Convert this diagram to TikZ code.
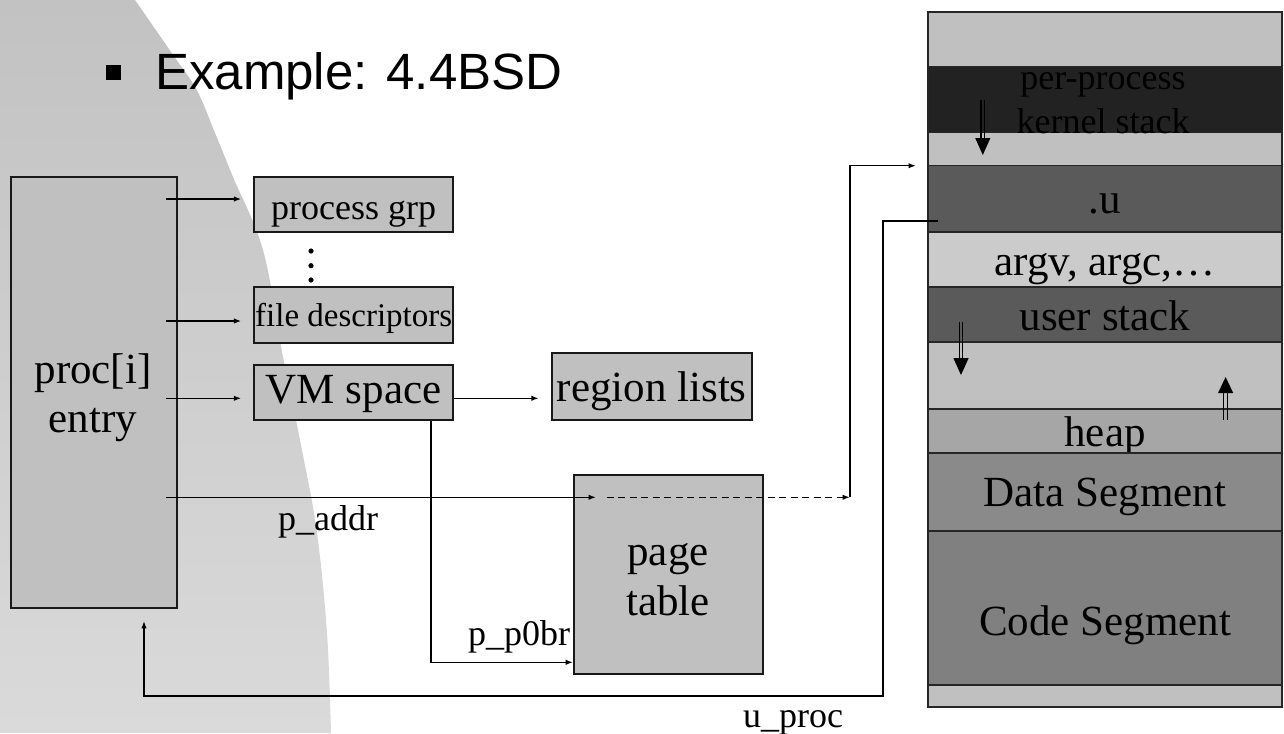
\documentclass[tikz,border=0pt]{standalone}
\usepackage{fontspec}
\setmainfont{Liberation Serif}
\newfontfamily\headfont{Liberation Sans}
\usetikzlibrary{arrows.meta}
\definecolor{boxgray}{HTML}{C0C0C0}
\definecolor{paleband}{HTML}{CBCBCB}
\definecolor{darkband}{HTML}{5A5A5A}
\definecolor{kernband}{HTML}{222222}
\definecolor{heapband}{HTML}{A6A6A6}
\definecolor{databand}{HTML}{8A8A8A}
\definecolor{codeband}{HTML}{808080}
\definecolor{arcTop}{HTML}{C2C2C2}
\definecolor{arcMid}{HTML}{D3D3D3}
\definecolor{arcBot}{HTML}{DADADA}
\newcommand{\setfs}[1]{\fontsize{#1}{#1}\selectfont}
\begin{document}
\begin{tikzpicture}[x=1pt,y=-1pt,
  box/.style={draw=black!90, line width=1.8pt, fill=boxgray, inner sep=0pt},
  band/.style={draw=black!85, line width=1.5pt, minimum width=354pt, inner sep=0pt, outer sep=0pt},
  conn/.style={line width=1.5pt, draw=black},
  tip/.style={-{Latex[length=7.5pt,width=5.5pt]}},
  lbl/.style={inner sep=0pt, anchor=base west},
  mid/.style={inner sep=0pt, anchor=base}
]
\useasboundingbox (0,0) rectangle (1284,733);

% background sweep on the left
\shade[top color=arcTop, middle color=arcMid, bottom color=arcBot]
  (0,0) -- plot[smooth, tension=0.6] coordinates {(135,0) (171.7,53) (196.7,90) (215,133) (233,177) (263,250) (281.7,350) (302,450) (317,533) (327,633) (331,733)}
  -- (0,733) -- cycle;

% heading
\fill (106,65) rectangle (120.7,79.7);
\node[lbl, font=\headfont\setfs{51}] (title) at (155,90) {Example: 4.4BSD};

% proc table entry and the structures it points to
\node[box, minimum width=166pt, minimum height=431pt] (proc) at (94,392.5) {};
\node[mid, font=\setfs{43}] (proctxt) at (93,383) {proc[i]};
\node[mid, font=\setfs{43}] (entrytxt) at (93,432) {entry};

\node[box, minimum width=199pt, minimum height=55pt, font=\setfs{36}, text height=29pt, text depth=0pt] (pg) at (353.7,204.8) {process grp};
\node[box, minimum width=199pt, minimum height=55.4pt, font=\setfs{33}, text height=23.4pt, text depth=0pt] (fd) at (353.7,315) {file descriptors};
\node[box, minimum width=199pt, minimum height=55pt, font=\setfs{43}, text height=21.6pt, text depth=0pt] (vm) at (353.7,392.5) {VM space};
\node[box, minimum width=200pt, minimum height=66.7pt, font=\setfs{43}, text height=30pt, text depth=0pt] (rl) at (651.7,386.7) {region lists};
\node[box, minimum width=189pt, minimum height=199pt] (pt) at (668.5,574.5) {};
\node[mid, font=\setfs{43}] (pagetxt) at (668,565) {page};
\node[mid, font=\setfs{43}] (tabletxt) at (668,615) {table};

% vertical ellipsis between the pointer targets
\fill (311,251) circle (2.6pt) (311,265.7) circle (2.6pt) (311,280) circle (2.6pt);

% process address space, top to bottom
\node[band, fill=boxgray,  minimum height=54.7pt] (b0)  at (1105,39.35) {};
\node[band, fill=kernband, minimum height=66pt]   (b1)  at (1105,99.7) {};
\node[band, fill=boxgray,  minimum height=33pt]   (b2)  at (1105,149.2) {};
\node[band, fill=darkband, minimum height=66.3pt, font=\setfs{43}, text height=28.6pt, text depth=0pt] (b3) at (1105,198.85) {.u};
\node[band, fill=paleband, minimum height=55pt, font=\setfs{43}, text height=31pt, text depth=0pt] (b4) at (1105,259.5) {argv, argc,…};
\node[band, fill=darkband, minimum height=55pt, font=\setfs{43}, text height=31pt, text depth=0pt] (b5) at (1105,314.5) {user stack};
\node[band, fill=boxgray,  minimum height=67pt]   (b6)  at (1105,375.5) {};
\node[band, fill=heapband, minimum height=44pt, font=\setfs{43}, text height=31.4pt, text depth=0pt] (b7) at (1105,431) {heap};
\node[band, fill=databand, minimum height=78pt, font=\setfs{43}, text height=29.4pt, text depth=0pt] (b8) at (1105,492) {Data Segment};
\node[band, fill=codeband, minimum height=154pt, font=\setfs{43}, text height=54pt, text depth=0pt] (b9) at (1105,608) {Code Segment};
\node[band, fill=boxgray,  minimum height=22pt]   (b10) at (1105,696) {};
\node[mid, font=\setfs{36}, text=black] (pptxt) at (1103,90) {per-process};
\node[mid, font=\setfs{36}, text=black] (kstxt) at (1103,133) {kernel stack};

% growth directions of the stacks and the heap
\draw[line width=1.1pt] (981,100) -- (981,140) (984.6,100) -- (984.6,140);
\fill (975.2,138) -- (990.4,138) -- (982.8,155) -- cycle;
\draw[line width=1.1pt] (959.2,321.7) -- (959.2,360) (962.8,321.7) -- (962.8,360);
\fill (953.3,358) -- (968.7,358) -- (961,375) -- cycle;
\draw[line width=1.1pt] (1223.8,420) -- (1223.8,391) (1227.4,420) -- (1227.4,391);
\fill (1218,393) -- (1233.2,393) -- (1225.6,377) -- cycle;

% pointers out of the proc entry
\coordinate (s1) at (166,199);
\coordinate (s2) at (166,321);
\coordinate (s3) at (166,398.3);
\coordinate (s4) at (166,497.3);
\draw[conn, tip, shorten >=12pt] (s1) -- (s1 -| pg.west);
\draw[conn, tip, shorten >=12pt] (s2) -- (s2 -| fd.west);
\draw[conn, tip, shorten >=12pt] (s3) -- (s3 -| vm.west);
\draw[conn, tip, shorten >=12pt] (s3 -| vm.east) -- (s3 -| rl.west);

% p_addr through the page table to the u area
\coordinate (pa) at (596,497.3);
\coordinate (pd) at (606.7,497.3);
\coordinate (corner) at (850,497.3);
\draw[conn, tip] (s4) -- (pa);
\draw[conn, tip, dash pattern=on 7pt off 4.5pt] (pd) -- (corner);
\draw[conn, tip, shorten >=12pt] (corner) |- (b3.north west);
\node[lbl, font=\setfs{36}] (paddr) at (278,530) {p\_addr};

% p_p0br from the VM space to the page table
\coordinate (vmdrop) at (431,662.3);
\draw[conn, tip] (vm.south -| vmdrop) -- (vmdrop) -- (vmdrop -| pt.west);
\node[lbl, font=\setfs{36}] (pp0br) at (468,645) {p\_p0br};

% u_proc back from the u area to the proc entry
\coordinate (ustart) at (938,221);
\coordinate (ubend) at (883,696);
\draw[conn, tip, shorten >=12pt] (ustart) -- (ustart -| ubend) -- (ubend) -| ([xshift=50pt]proc.south);
\node[lbl, font=\setfs{36}] (uproc) at (743,727) {u\_proc};
\end{tikzpicture}
\end{document}
